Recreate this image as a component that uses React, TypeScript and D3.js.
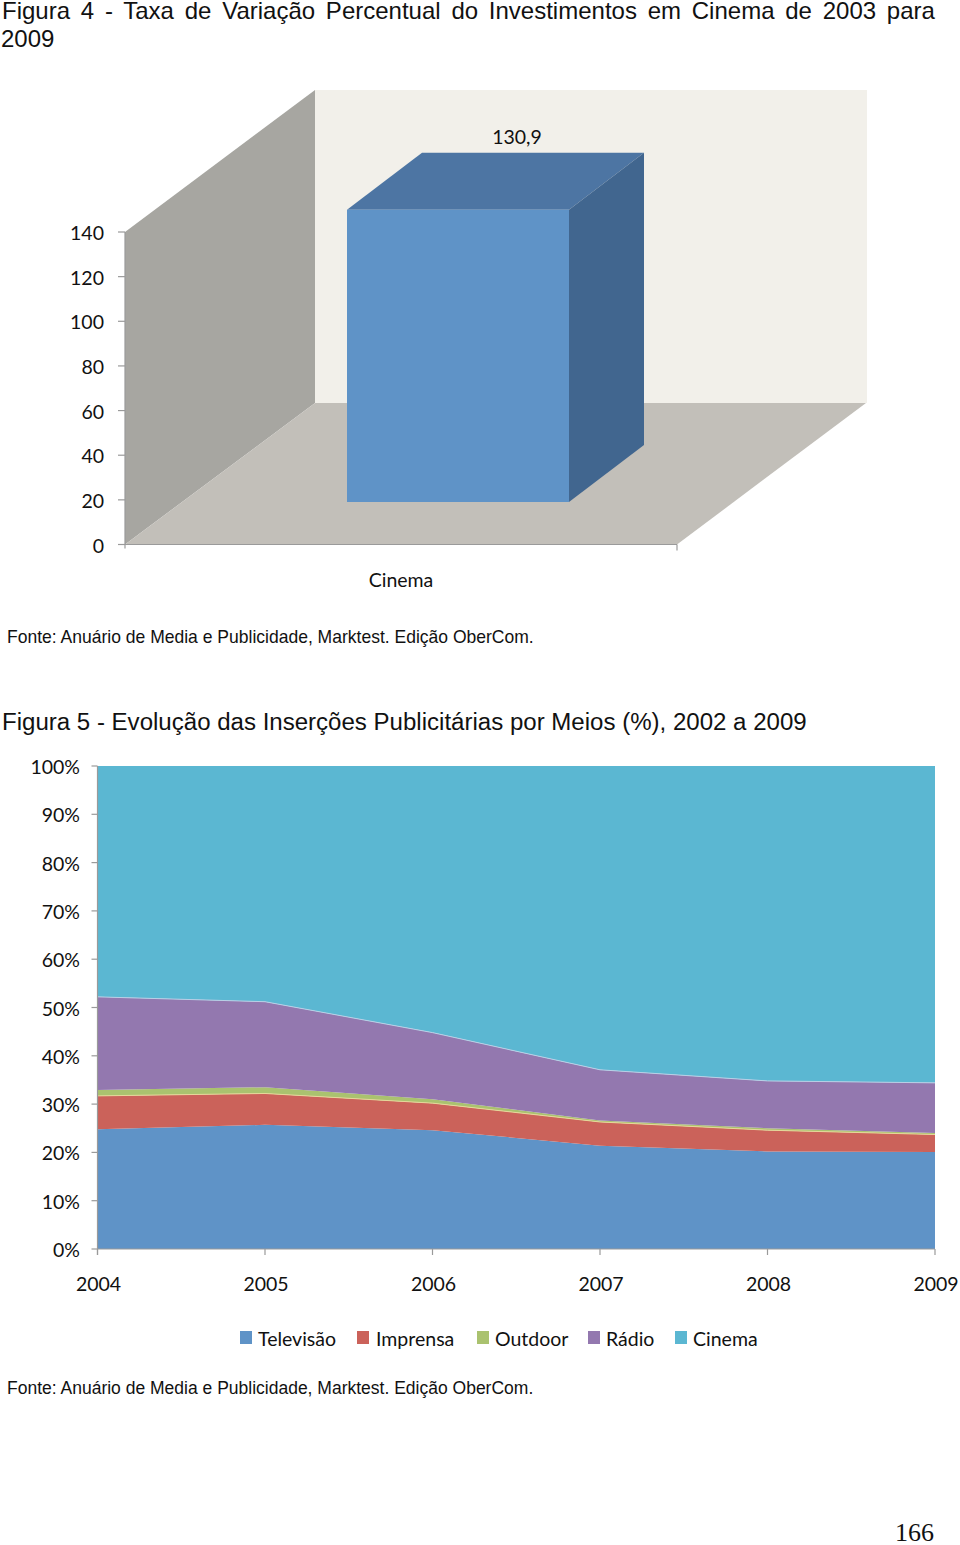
import React, { useEffect, useRef } from "react";
import * as d3 from "d3";

const barCategory = "Cinema";
const barValue = 130.9;
const barLabel = "130,9";
const barTicks = [0, 20, 40, 60, 80, 100, 120, 140];

const years = [2004, 2005, 2006, 2007, 2008, 2009];
const seriesNames = ["Televisão", "Imprensa", "Outdoor", "Rádio", "Cinema"];
const seriesColors = ["#5f93c7", "#cb625a", "#aac26f", "#9378af", "#5bb7d2"];
const edgeColors = ["none", "none", "#e6d79a", "none", "#b9cfe6"];
const television = [24.8, 25.7, 24.6, 21.4, 20.2, 20.1];
const imprensa = [6.9, 6.5, 5.6, 4.9, 4.4, 3.6];
const outdoor = [1.2, 1.3, 0.8, 0.3, 0.4, 0.3];
const radio = [19.3, 17.7, 13.8, 10.5, 9.8, 10.4];
const cinema = [47.8, 48.8, 55.2, 62.9, 65.2, 65.6];
const pctTicks = [0, 10, 20, 30, 40, 50, 60, 70, 80, 90, 100];

const sans = "'Liberation Sans', Arial, sans-serif";
const label = "Lato, 'Open Sans', sans-serif";
const axisGrey = "#9a9a9a";

function draw(svgEl: SVGSVGElement) {
  const svg = d3.select(svgEl);
  svg.selectAll("*").remove();

  const text = (x: number, y: number, s: string, size: number, font: string, anchor = "start", extra?: (t: any) => void) => {
    const t = svg.append("text").attr("x", x).attr("y", y).attr("font-size", size).attr("font-family", font)
      .attr("text-anchor", anchor).attr("fill", "#111").text(s);
    if (extra) extra(t);
    return t;
  };

  // Titles and notes
  text(2, 19, "Figura 4 - Taxa de Variação Percentual do Investimentos em Cinema de 2003 para", 24, sans, "start",
    (t) => t.attr("word-spacing", 4.1));
  text(1, 47, "2009", 24, sans);
  text(7, 643, "Fonte: Anuário de Media e Publicidade, Marktest. Edição OberCom.", 17.53, sans);
  text(2, 730, "Figura 5 - Evolução das Inserções Publicitárias por Meios (%), 2002 a 2009", 24.05, sans);
  text(7, 1394, "Fonte: Anuário de Media e Publicidade, Marktest. Edição OberCom.", 17.5, sans);
  text(934, 1541, "166", 26, "'Liberation Serif', serif", "end");

  // 3D bar chart
  const y3 = d3.scaleLinear().domain([0, 140]).range([544.5, 232]);
  const unit = y3(0) - y3(1);
  const leftX = 125, rightX = 677, depthX = 190, depthY = 141.5;
  const wallTop = 90;
  const poly = (pts: [number, number][], fill: string) =>
    svg.append("path").attr("d", d3.line()(pts) + "Z").attr("fill", fill);

  poly([[leftX + depthX, wallTop], [867, wallTop], [867, y3(0) - depthY], [leftX + depthX, y3(0) - depthY]], "#f2f0ea");
  poly([[leftX, y3(140)], [leftX + depthX, wallTop], [leftX + depthX, y3(0) - depthY], [leftX, y3(0)]], "#a7a6a1");
  poly([[leftX, y3(0)], [leftX + depthX, y3(0) - depthY], [866, y3(0) - depthY], [rightX, y3(0)]], "#c2bfb9");

  const barL = 347, barR = 569, barBase = 502, dx = 75, dy = 57;
  const barTop = barBase - barValue * unit;
  poly([[barL, barTop], [barL + dx, barTop - dy], [barR + dx, barTop - dy], [barR, barTop]], "#4d75a3");
  poly([[barR, barTop], [barR + dx, barTop - dy], [barR + dx, barBase - dy], [barR, barBase]], "#41668f");
  poly([[barL, barTop], [barR, barTop], [barR, barBase], [barL, barBase]], "#5f93c7");

  svg.append("line").attr("x1", leftX).attr("x2", leftX).attr("y1", y3(140)).attr("y2", y3(0) + 4).attr("stroke", axisGrey).attr("stroke-width", 1.2);
  svg.append("line").attr("x1", leftX).attr("x2", rightX).attr("y1", y3(0)).attr("y2", y3(0)).attr("stroke", axisGrey).attr("stroke-width", 1.2);
  svg.append("line").attr("x1", rightX).attr("x2", rightX).attr("y1", y3(0)).attr("y2", y3(0) + 6).attr("stroke", axisGrey).attr("stroke-width", 1.2);
  barTicks.forEach((v) => {
    svg.append("line").attr("x1", leftX - 7).attr("x2", leftX).attr("y1", y3(v)).attr("y2", y3(v)).attr("stroke", axisGrey).attr("stroke-width", 1.2);
    text(104, y3(v) + 8, String(v), 19.5, label, "end");
  });
  text(517, 143.5, barLabel, 19.5, label, "middle");
  text(401, 587, barCategory, 19.5, label, "middle");

  // Stacked area chart
  const x = d3.scalePoint<number>().domain(years).range([97.5, 935]);
  const y = d3.scaleLinear().domain([0, 100]).range([1249, 766]);
  const values = [television, imprensa, outdoor, radio, cinema];
  const rows = years.map((yr, i) => {
    const r: Record<string, number> = { year: yr };
    seriesNames.forEach((n, k) => (r[n] = values[k][i]));
    return r;
  });
  const stacked = d3.stack<Record<string, number>>().keys(seriesNames)(rows);
  const area = d3.area<any>().x((d) => x(d.data.year)!).y0((d) => y(d[0])).y1((d) => y(d[1]));
  const baseLine = d3.line<any>().x((d) => x(d.data.year)!).y((d) => y(d[0]));
  stacked.forEach((s, k) => {
    svg.append("path").attr("d", area(s as any)!).attr("fill", seriesColors[k]);
  });
  stacked.forEach((s, k) => {
    if (edgeColors[k] !== "none") {
      svg.append("path").attr("d", baseLine(s as any)!).attr("fill", "none").attr("stroke", edgeColors[k]).attr("stroke-width", 1);
    }
  });

  svg.append("line").attr("x1", x(2004)!).attr("x2", x(2004)!).attr("y1", y(100)).attr("y2", y(0) + 6).attr("stroke", axisGrey).attr("stroke-width", 1.2);
  svg.append("line").attr("x1", x(2004)!).attr("x2", x(2009)!).attr("y1", y(0)).attr("y2", y(0)).attr("stroke", axisGrey).attr("stroke-width", 1.2);
  pctTicks.forEach((v) => {
    svg.append("line").attr("x1", x(2004)! - 6).attr("x2", x(2004)!).attr("y1", y(v)).attr("y2", y(v)).attr("stroke", axisGrey).attr("stroke-width", 1.2);
    text(80, y(v) + 8, `${v}%`, 19.5, label, "end");
  });
  years.forEach((yr) => {
    svg.append("line").attr("x1", x(yr)!).attr("x2", x(yr)!).attr("y1", y(0)).attr("y2", y(0) + 6).attr("stroke", axisGrey).attr("stroke-width", 1.2);
    text(x(yr)! + 1, 1291, String(yr), 19.5, label, "middle");
  });

  const legendX = [240, 357, 477, 588, 675];
  const legendTextX = [258, 376, 495, 606, 693];
  seriesNames.forEach((n, k) => {
    svg.append("rect").attr("x", legendX[k]).attr("y", 1331).attr("width", 12).attr("height", 13).attr("fill", seriesColors[k]);
    text(legendTextX[k], 1346, n, 19.5, label);
  });
}

export default function App() {
  const ref = useRef<SVGSVGElement>(null);
  useEffect(() => {
    if (ref.current) draw(ref.current);
  }, []);
  return (
    <svg ref={ref} width={960} height={1545} style={{ position: "absolute", left: 0, top: 0, display: "block", background: "#fff" }} />
  );
}
